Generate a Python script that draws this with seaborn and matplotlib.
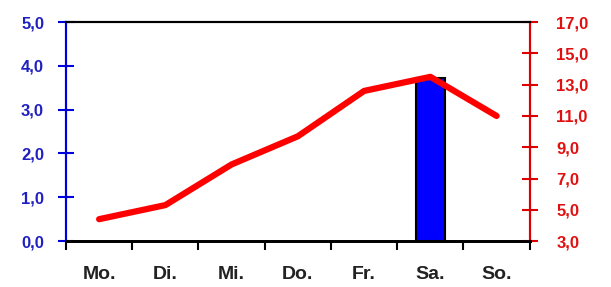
#!/usr/bin/env python3

import numpy as np
import pandas as pd
import matplotlib
matplotlib.use("Agg")
import matplotlib.pyplot as plt
from matplotlib.ticker import FuncFormatter, FixedLocator
import seaborn as sb

# data #
days = ["Mo.", "Di.", "Mi.", "Do.", "Fr.", "Sa.", "So."]
bar_days = ["Sa."]
bar_values = [3.72]
line_values = [4.4, 5.3, 7.9, 9.7, 12.6, 13.5, 11.0]

sb.set_style("white")
plt.rcParams['font.family'] = ['Liberation Sans', 'DejaVu Sans']

fig = plt.figure(figsize=(6.11, 2.87), dpi=100)
ax = fig.add_axes([0.108, 0.160, 0.759, 0.763])

comma = FuncFormatter(lambda v, p: f"{v:.1f}".replace(".", ","))

# bar on left axis #
bars = pd.DataFrame({"day": bar_days, "value": bar_values})
sb.barplot(data=bars, x="day", y="value", order=days, color="#0000ff",
           edgecolor="black", linewidth=1.5, width=0.44, saturation=1, ax=ax)
ax.set_xlim(-0.5, len(days) - 0.5)
ax.set_ylim(0, 5)
ax.set_xlabel("")
ax.set_ylabel("")

# line on right axis #
ax2 = ax.twinx()
sb.lineplot(x=np.arange(len(days)), y=line_values, color="#ff0000",
            linewidth=4.5, ax=ax2)
ax2.set_ylim(3, 17)
ax2.set_yticks(np.arange(3, 18, 2))
ax2.set_ylabel("")

# configure axes #
ax.set_xticks(np.arange(len(days)))
ax.set_xticklabels(days)
ax.set_xlim(-0.5, len(days) - 0.5)
ax.set_yticks(np.arange(0, 6, 1))
ax.yaxis.set_major_formatter(comma)
ax2.yaxis.set_major_formatter(comma)

ax.xaxis.set_minor_locator(FixedLocator(np.arange(-0.5, len(days), 1)))
ax.tick_params(axis="x", which="major", length=0, pad=18, labelsize=14,
               labelcolor="#222222", bottom=True)
ax.tick_params(axis="x", which="minor", direction="out", length=6.5,
               width=1.5, color="black", bottom=True)
for lab in ax.get_xticklabels():
    lab.set_fontweight("bold")

ax.tick_params(axis="y", direction="inout", length=11.5, width=1.5,
               color="#0000dd", labelcolor="#2020c0", labelsize=12, pad=10,
               left=True)
ax2.tick_params(axis="y", direction="inout", length=12, width=1.5,
                color="#dd0000", labelcolor="#e01010", labelsize=12, pad=13,
                right=True)
for lab in ax.get_yticklabels() + ax2.get_yticklabels():
    lab.set_fontweight("bold")

for a in (ax, ax2):
    a.spines["top"].set_color("black")
    a.spines["top"].set_linewidth(1.5)
    a.spines["bottom"].set_color("black")
    a.spines["bottom"].set_linewidth(2)
    a.spines["left"].set_color("#0000dd")
    a.spines["left"].set_linewidth(1.5)
    a.spines["right"].set_color("#dd0000")
    a.spines["right"].set_linewidth(1.5)

plt.savefig("out.png", dpi=100)
